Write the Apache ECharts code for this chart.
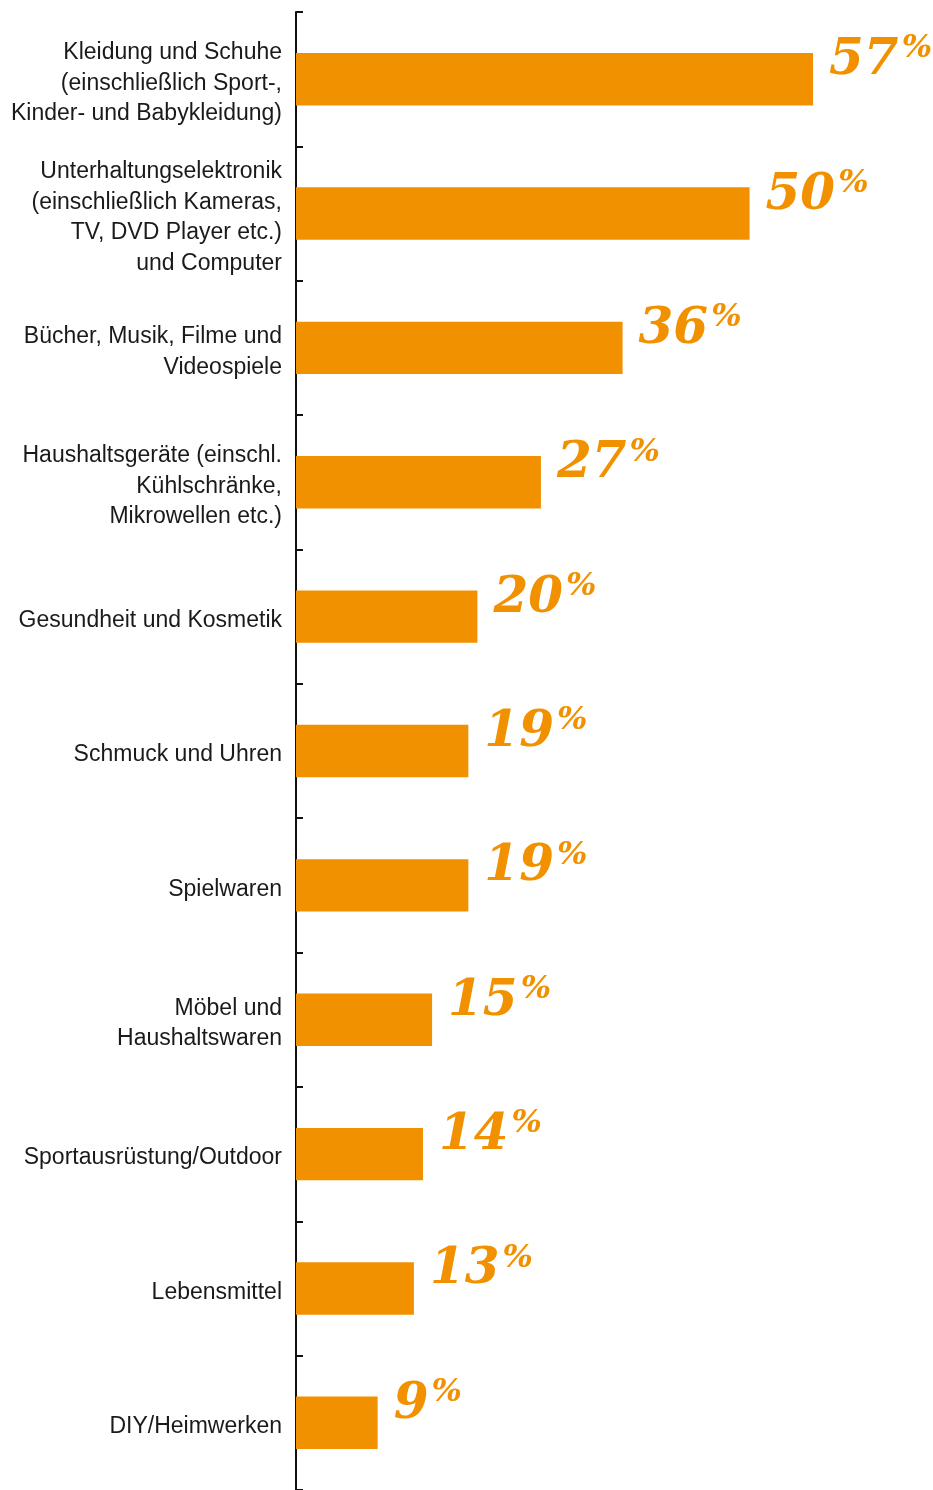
<!DOCTYPE html>
<html>
<head>
<meta charset="utf-8">
<script src="https://cdn.jsdelivr.net/npm/echarts@6/dist/echarts.min.js"></script>
<style>
  html, body { margin: 0; padding: 0; background: #ffffff; }
  #chart { width: 933px; height: 1490px; }
</style>
</head>
<body>
<div id="chart"></div>
<script>
// Product categories, top to bottom
const categories = [
  'Kleidung und Schuhe\n(einschließlich Sport-,\nKinder- und Babykleidung)',
  'Unterhaltungselektronik\n(einschließlich Kameras,\nTV, DVD Player etc.)\nund Computer',
  'Bücher, Musik, Filme und\nVideospiele',
  'Haushaltsgeräte (einschl.\nKühlschränke,\nMikrowellen etc.)',
  'Gesundheit und Kosmetik',
  'Schmuck und Uhren',
  'Spielwaren',
  'Möbel und\nHaushaltswaren',
  'Sportausrüstung/Outdoor',
  'Lebensmittel',
  'DIY/Heimwerken'
];
// Share in percent
const shares = [57, 50, 36, 27, 20, 19, 19, 15, 14, 13, 9];

const ORANGE = '#f29100';
const catText = {
  color: '#1a1a1a',
  fontFamily: 'Liberation Sans, Arial, sans-serif',
  fontSize: 23,
  lineHeight: 30.5
};

const chart = echarts.init(document.getElementById('chart'));
chart.setOption({
  animation: false,
  grid: { left: 296, right: 2, top: 12, bottom: 0, containLabel: false },
  xAxis: {
    type: 'value', min: 0, max: 70,
    show: false
  },
  yAxis: {
    type: 'category',
    data: categories,
    inverse: true,
    axisLine: { show: true, lineStyle: { color: '#111', width: 2 } },
    axisTick: { show: true, inside: true, length: 7, lineStyle: { color: '#111', width: 2 } },
    axisLabel: {
      margin: 14,
      align: 'right',
      ...catText,
      // each line nudged a few pixels down inside its own line box
      formatter: v => v.split('\n').map(line => '{t|' + line + '}').join('\n'),
      rich: {
        t: { ...catText, padding: [4, 0, -4, 0] }
      }
    },
    splitLine: { show: false }
  },
  series: [{
    type: 'bar',
    data: shares,
    barCategoryGap: '61%',
    itemStyle: { color: ORANGE },
    label: {
      show: true,
      position: 'right',
      distance: 16,
      offset: [0, -18],
      formatter: p => '{v|' + p.value + '}{p|%}',
      rich: {
        v: {
          fontFamily: 'DejaVu Serif, serif',
          fontStyle: 'italic',
          fontWeight: 'bold',
          fontSize: 50,
          color: ORANGE,
          lineHeight: 56
        },
        p: {
          fontFamily: 'DejaVu Serif, serif',
          fontStyle: 'italic',
          fontWeight: 'bold',
          fontSize: 32,
          color: ORANGE,
          verticalAlign: 'top',
          lineHeight: 56,
          padding: [0, 0, 10, 3]
        }
      }
    }
  }]
});
</script>
</body>
</html>
